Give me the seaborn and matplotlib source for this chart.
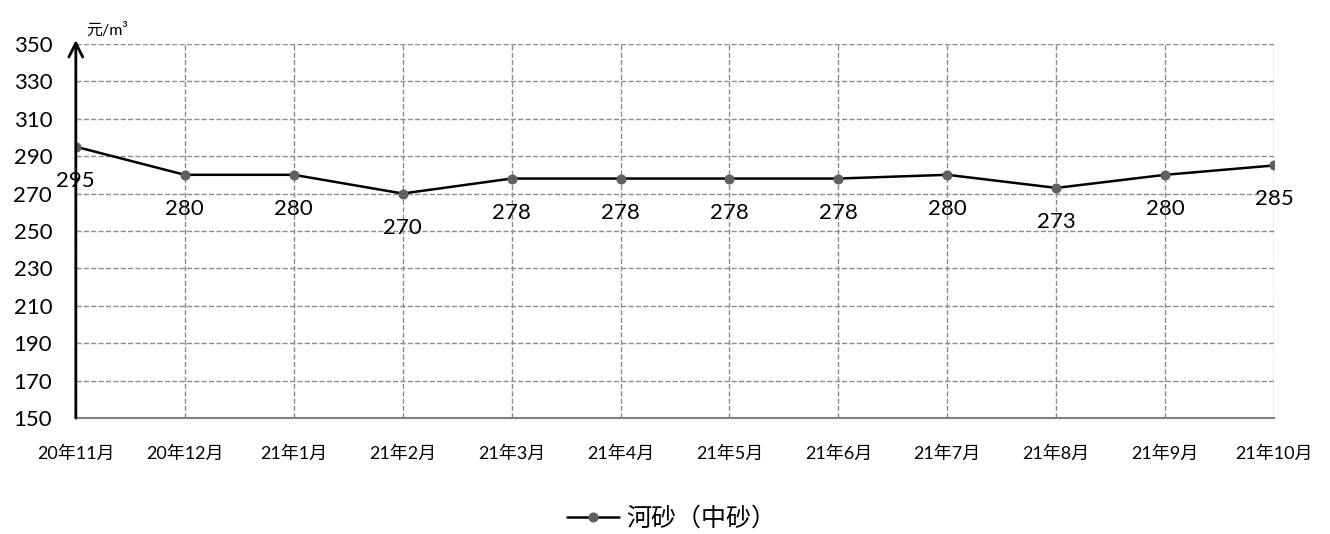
import matplotlib
matplotlib.use('Agg')
import matplotlib.pyplot as plt
import seaborn as sns
import pandas as pd

# data
months = ['20年11月', '20年12月', '21年1月', '21年2月', '21年3月', '21年4月',
          '21年5月', '21年6月', '21年7月', '21年8月', '21年9月', '21年10月']
prices = [295, 280, 280, 270, 278, 278, 278, 278, 280, 273, 280, 285]
series_name = '河砂（中砂）'
y_ticks = list(range(150, 351, 20))

sns.set_theme(style='white')
plt.rcParams['font.family'] = ['Lato', 'Noto Sans CJK SC', 'DejaVu Sans']

df = pd.DataFrame({'x': range(len(months)), 'price': prices})

fig = plt.figure(figsize=(13.3, 5.34), dpi=100)
ax = fig.add_axes([0.057, 0.217, 0.901, 0.701])

sns.lineplot(data=df, x='x', y='price', ax=ax, color='black', linewidth=1.8,
             marker='o', markersize=6.5, markerfacecolor='#606060',
             markeredgecolor='#606060', label=series_name, zorder=3)

ax.set_xlim(0, len(months) - 1)
ax.set_ylim(150, 350)
ax.set_yticks(y_ticks)
ax.set_yticklabels([str(v) for v in y_ticks], fontsize=16, color='black')
ax.set_xticks(range(len(months)))
ax.set_xticklabels(months, fontsize=13, color='black')
ax.tick_params(axis='x', length=0, pad=20)
ax.tick_params(axis='y', length=0, pad=17)
ax.set_xlabel('')
ax.set_ylabel('')

ax.grid(True, linestyle='--', color='#8c8c8c', linewidth=1.0)
for s in ['top', 'right', 'left']:
    ax.spines[s].set_visible(False)
ax.spines['bottom'].set_color('#808080')
ax.spines['bottom'].set_linewidth(1.5)

# y axis with arrow
ax.annotate('', xy=(0, 352), xytext=(0, 150), xycoords='data',
            arrowprops=dict(arrowstyle='->', color='black', lw=2,
                            mutation_scale=25, shrinkA=0, shrinkB=0),
            annotation_clip=False, zorder=4)
ax.text(0.009, 1.015, '元/m³', transform=ax.transAxes, fontsize=11.5,
        ha='left', va='bottom', color='black')

# value labels
for i, v in enumerate(prices):
    ax.annotate(str(v), (i, v), xytext=(0, -24.5), textcoords='offset points',
                ha='center', va='center', fontsize=16, color='black')

ax.get_legend().remove()
handles, labels = ax.get_legend_handles_labels()
leg = fig.legend(handles, labels, loc='center', bbox_to_anchor=(0.505, 0.03),
                 frameon=False, fontsize=18, handlelength=2.1, handletextpad=0.3)
for t in leg.get_texts():
    t.set_color('black')

fig.savefig('out.png', dpi=100)
